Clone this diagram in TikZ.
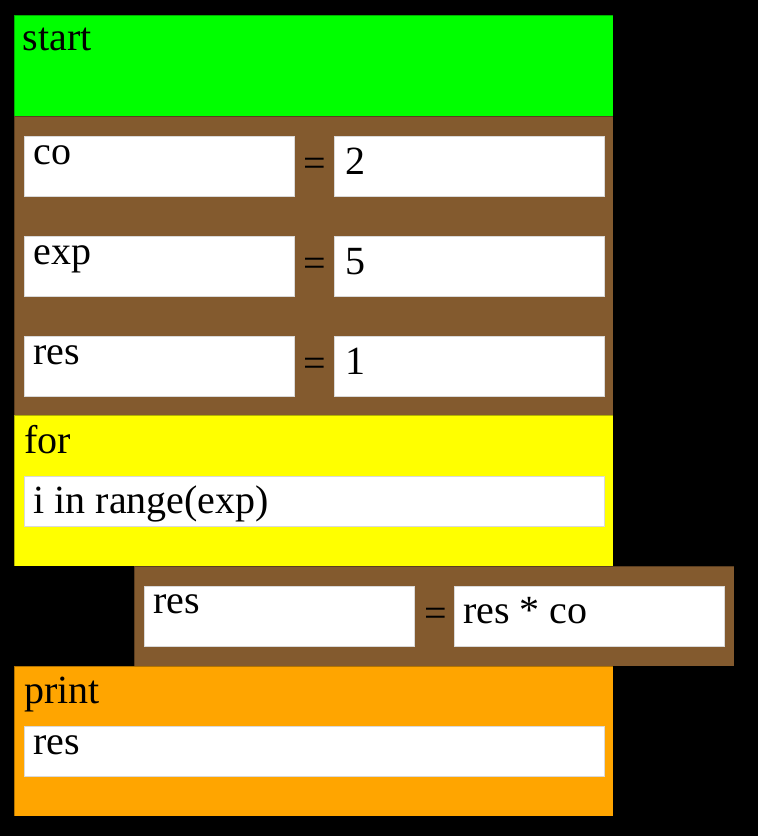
\documentclass[tikz,border=0pt]{standalone}
\usepackage{fontspec}
\setmainfont{Liberation Serif}
\definecolor{stmtbrown}{RGB}{131,90,46}
\definecolor{blockgreen}{RGB}{0,255,0}
\definecolor{blockyellow}{RGB}{255,255,0}
\definecolor{blockorange}{RGB}{255,165,0}
\tikzset{
  block/.style={anchor=north west, inner sep=0pt, draw=black, draw opacity=0.3, line width=0.6pt},
  field/.style={anchor=north west, inner sep=0pt, fill=white, draw=black!15, line width=0.5pt,
    minimum height=60pt, minimum width=270pt},
  longfield/.style={field, minimum height=50pt, minimum width=580pt},
  word/.style={anchor=base west, inner sep=0pt, font=\fontsize{40}{48}\selectfont},
  eqsign/.style={anchor=center, inner sep=0pt, font=\fontsize{40}{48}\selectfont}
}
\begin{document}
\begin{tikzpicture}[x=1pt, y=-1pt]
      \fill[black] (0,0) rectangle (758,836);
      \useasboundingbox (0,0) rectangle (758,836);
      % blocks
      \node[block, fill=blockgreen, minimum width=599pt, minimum height=101pt] (start) at (14,15) {};
      \node[block, fill=stmtbrown, minimum width=599pt, minimum height=299pt] (assign) at (14,116) {};
      \node[block, fill=blockyellow, minimum width=599pt, minimum height=151pt] (for) at (14,415) {};
      \node[block, fill=stmtbrown, minimum width=600pt, minimum height=100pt] (body) at (134,566) {};
      \node[block, fill=blockorange, minimum width=599pt, minimum height=150pt] (print) at (14,666) {};
      % fields
      \node[field] (co) at (24,136) {};
      \node[field] (cov) at (334,136) {};
      \node[field] (exp) at (24,236) {};
      \node[field] (expv) at (334,236) {};
      \node[field] (res) at (24,336) {};
      \node[field] (resv) at (334,336) {};
      \node[longfield] (range) at (24,476) {};
      \node[field] (bres) at (144,586) {};
      \node[field] (bresv) at (454,586) {};
      \node[longfield] (arg) at (24,726) {};
      % texts
      \node[word] (starttxt) at (22.7,50.7) {start};
      \node[word] (cotxt) at (33.3,164) {co};
      \node[eqsign] (coeq) at (315,167.5) {=};
      \node[word] (covtxt) at (345,174) {2};
      \node[word] (exptxt) at (33.3,264) {exp};
      \node[eqsign] (expeq) at (315,267.5) {=};
      \node[word] (expvtxt) at (345,274) {5};
      \node[word] (restxt) at (33.3,364) {res};
      \node[eqsign] (reseq) at (315,367.5) {=};
      \node[word] (resvtxt) at (345,374) {1};
      \node[word] (fortxt) at (24,453) {for};
      \node[word] (rangetxt) at (33.3,513) {i in range(exp)};
      \node[word] (brestxt) at (153,613) {res};
      \node[eqsign] (breseq) at (436,617.5) {=};
      \node[word] (bresvtxt) at (463,623) {res * co};
      \node[word] (printtxt) at (24,703) {print};
      \node[word] (argtxt) at (33.3,754) {res};
    \end{tikzpicture}
\end{document}
